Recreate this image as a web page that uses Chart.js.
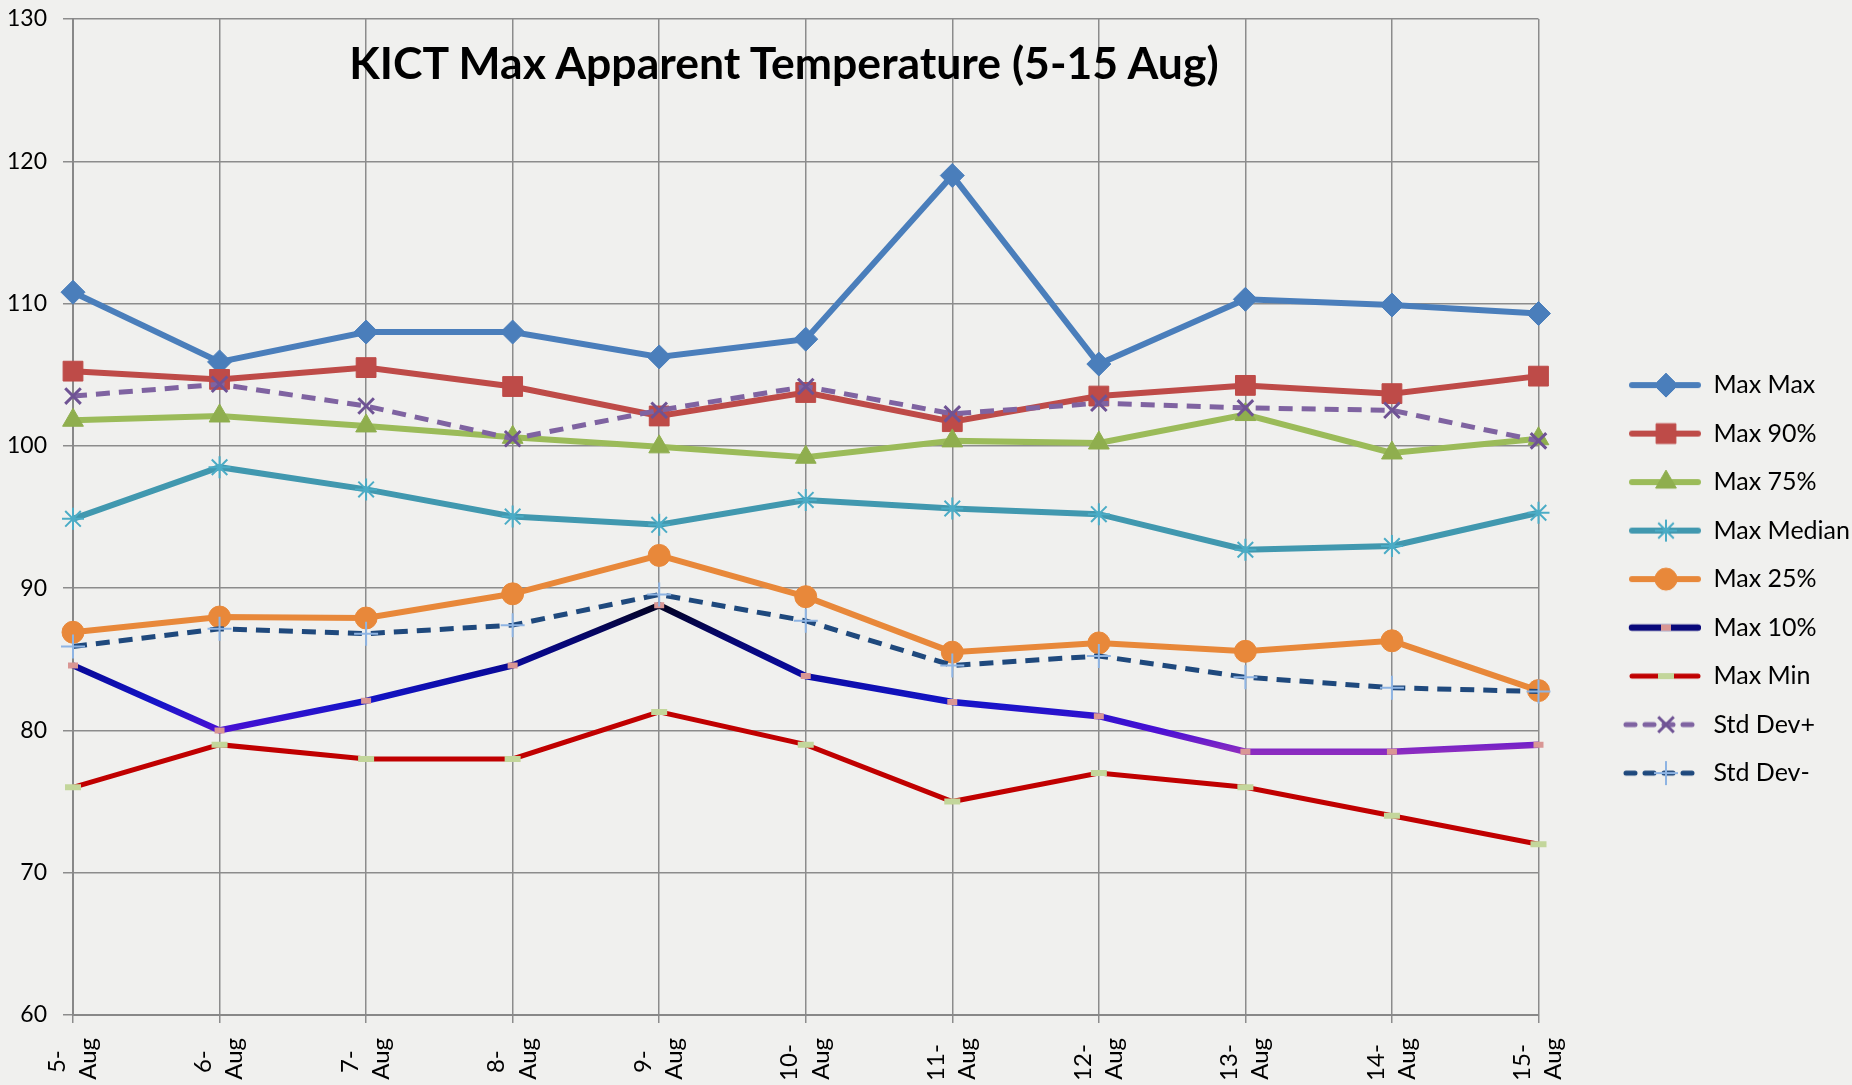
<!DOCTYPE html>
<html>
<head>
<meta charset="utf-8">
<title>KICT Max Apparent Temperature</title>
<script src="https://cdn.jsdelivr.net/npm/chart.js@4/dist/chart.umd.min.js"></script>
<style>
    html, body { margin: 0; padding: 0; background: #f0f0ee; }
    #wrap { position: relative; width: 1852px; height: 1085px; overflow: hidden; }
    #title {
        position: absolute; left: 0; width: 1568px; top: 39px;
        text-align: center; font: bold 44.5px Lato, sans-serif; line-height: 45px; color: #000;
    }
</style>
</head>
<body>
<div id="wrap">
    <canvas id="chart" width="1852" height="1085"></canvas>
    <div id="title">KICT Max Apparent Temperature (5-15 Aug)</div>
</div>
<script>
var days = [['5-', 'Aug'], ['6-', 'Aug'], ['7-', 'Aug'], ['8-', 'Aug'], ['9-', 'Aug'], ['10-', 'Aug'],
    ['11-', 'Aug'], ['12-', 'Aug'], ['13-', 'Aug'], ['14-', 'Aug'], ['15-', 'Aug']];
var yTicks = [60, 70, 80, 90, 100, 110, 120, 130];

var maxMax    = [110.8, 105.9, 108.0, 108.0, 106.25, 107.5, 119.0, 105.75, 110.3, 109.9, 109.3];
var max90     = [105.25, 104.67, 105.5, 104.17, 102.1, 103.75, 101.7, 103.5, 104.25, 103.67, 104.9];
var max75     = [101.8, 102.1, 101.4, 100.6, 99.93, 99.2, 100.35, 100.2, 102.2, 99.5, 100.5];
var maxMedian = [94.87, 98.5, 96.94, 95.03, 94.45, 96.2, 95.6, 95.2, 92.7, 92.96, 95.3];
var max25     = [86.9, 87.97, 87.9, 89.6, 92.3, 89.4, 85.5, 86.15, 85.56, 86.3, 82.8];
var max10     = [84.57, 80.0, 82.08, 84.57, 88.8, 83.82, 82.0, 81.0, 78.5, 78.5, 79.0];
var maxMin    = [76, 79, 78, 78, 81.3, 79, 75, 77, 76, 74, 72];
var stdPlus   = [103.5, 104.33, 102.8, 100.5, 102.5, 104.17, 102.25, 103.0, 102.67, 102.5, 100.35];
var stdMinus  = [85.9, 87.14, 86.8, 87.4, 89.55, 87.7, 84.57, 85.23, 83.74, 83.0, 82.74];

// colour of the Max 10% line runs from black (high) to purple (low)
var max10Stops = [[89, '#02021a'], [86.5, '#06066e'], [84, '#0a0aa0'], [82, '#1414c8'], [80, '#4a10d4'], [78.5, '#8c2cc0']];

function max10Color(c) {
    var chart = c.chart;
    if (!chart.chartArea) return '#0a0aa0';
    var y = chart.scales.y;
    var top = y.getPixelForValue(max10Stops[0][0]);
    var bot = y.getPixelForValue(max10Stops[max10Stops.length - 1][0]);
    var g = chart.ctx.createLinearGradient(0, top, 0, bot);
    max10Stops.forEach(function (s) {
        g.addColorStop((y.getPixelForValue(s[0]) - top) / (bot - top), s[1]);
    });
    return g;
}

var series = [
    { label: 'Max Max', data: maxMax, color: '#4a7ebb', style: 'rectRot', r: 12, pw: 1, mc: '#4a7ebb', w: 6 },
    { label: 'Max 90%', data: max90, color: '#be4b48', style: 'rect', r: 14, pw: 1, mc: '#be4b48', w: 6 },
    { label: 'Max 75%', data: max75, color: '#9bbb59', style: 'triangle', r: 12, pw: 1, mc: '#8fae4e', w: 6 },
    { label: 'Max Median', data: maxMedian, color: '#4198af', style: 'star', r: 11, pw: 2, mc: '#4bacc6', w: 6 },
    { label: 'Max 25%', data: max25, color: '#e8883a', style: 'circle', r: 11, pw: 1, mc: '#e8883a', w: 6 },
    { label: 'Max 10%', data: max10, color: max10Color, legendColor: '#08087a', style: 'line', r: 5, pw: 6, mc: '#d99694', w: 6.5 },
    { label: 'Max Min', data: maxMin, color: '#c00000', style: 'line', r: 8, pw: 6, mc: '#c3d69b', w: 5 },
    { label: 'Std Dev+', data: stdPlus, color: '#7f63a1', style: 'crossRot', r: 11, pw: 3, mc: '#6f5394', w: 5, dash: [14, 9] },
    { label: 'Std Dev-', data: stdMinus, color: '#1f497d', style: 'cross', r: 12, pw: 2, mc: '#8eb4e3', w: 5, dash: [14, 9] }
];

var sampleW = 139;

function legendSample(s) {
    var c = document.createElement('canvas');
    c.width = sampleW; c.height = 30;
    var ctx = c.getContext('2d');
    ctx.strokeStyle = s.legendColor || s.color;
    ctx.lineWidth = s.w;
    ctx.lineCap = 'round';
    if (s.dash) ctx.setLineDash([9, 10]);
    ctx.beginPath();
    ctx.moveTo(s.dash ? 64 : 70, 15);
    ctx.lineTo(sampleW - 3, 15);
    ctx.stroke();
    ctx.setLineDash([]);
    ctx.lineCap = 'butt';
    ctx.fillStyle = s.mc;
    ctx.strokeStyle = s.mc;
    ctx.lineWidth = s.pw;
    Chart.helpers.drawPoint(ctx, { pointStyle: s.style, radius: s.r, borderWidth: s.pw, rotation: 0 }, 104, 15);
    return c;
}

var samples = series.map(legendSample);

var datasets = series.map(function (s, i) {
    return {
        label: s.label,
        data: s.data,
        borderColor: s.color,
        backgroundColor: s.color,
        borderWidth: s.w,
        borderDash: s.dash || [],
        pointStyle: s.style,
        pointRadius: s.r,
        pointBorderWidth: s.pw,
        pointBackgroundColor: s.mc,
        pointBorderColor: s.mc,
        tension: 0,
        fill: false,
        order: series.length - i
    };
});

var gridColor = '#8c8c8c';

new Chart(document.getElementById('chart'), {
    type: 'line',
    data: { labels: days, datasets: datasets },
    options: {
        responsive: false,
        animation: false,
        layout: { padding: { left: 8, top: 19, right: -8, bottom: 2 } },
        plugins: {
            title: { display: false },
            tooltip: { enabled: false },
            legend: {
                position: 'right',
                title: { display: true, text: ' ', font: { size: 1 }, padding: { top: 0, bottom: 55 } },
                labels: {
                    usePointStyle: true,
                    pointStyleWidth: sampleW,
                    padding: 23.5,
                    color: '#000',
                    font: { family: 'Lato', size: 25 },
                    generateLabels: function () {
                        return series.map(function (s, i) {
                            return {
                                text: s.label, datasetIndex: i, pointStyle: samples[i], hidden: false,
                                fillStyle: 'transparent', strokeStyle: 'transparent', lineWidth: 0, fontColor: '#000'
                            };
                        });
                    }
                }
            }
        },
        scales: {
            x: {
                offset: false,
                afterFit: function (axis) { axis.paddingLeft = 0; axis.paddingRight = 0; axis.height = 68; },
                grid: { color: gridColor, lineWidth: 1.5, tickLength: 8 },
                border: { color: '#888', width: 2 },
                ticks: {
                    color: '#000', font: { family: 'Lato', size: 24, lineHeight: 1.3 },
                    minRotation: 90, maxRotation: 90, padding: 15, autoSkip: false, labelOffset: -16,
                    // centre the short first line against "Aug"
                    callback: function (v, i) {
                        var l = days[i];
                        return [l[0] + (l[0].length < 3 ? '  ' : ' '), l[1]];
                    }
                }
            },
            y: {
                min: yTicks[0],
                max: yTicks[yTicks.length - 1],
                afterBuildTicks: function (axis) { axis.ticks = yTicks.map(function (v) { return { value: v }; }); },
                afterFit: function (axis) { axis.width = 65; axis.paddingTop = 0; axis.paddingBottom = 0; },
                grid: { color: gridColor, lineWidth: 1.5, tickLength: 10 },
                border: { color: '#888', width: 2 },
                ticks: { color: '#000', font: { family: 'Lato', size: 23 }, padding: 16 }
            }
        }
    }
});
</script>
</body>
</html>
